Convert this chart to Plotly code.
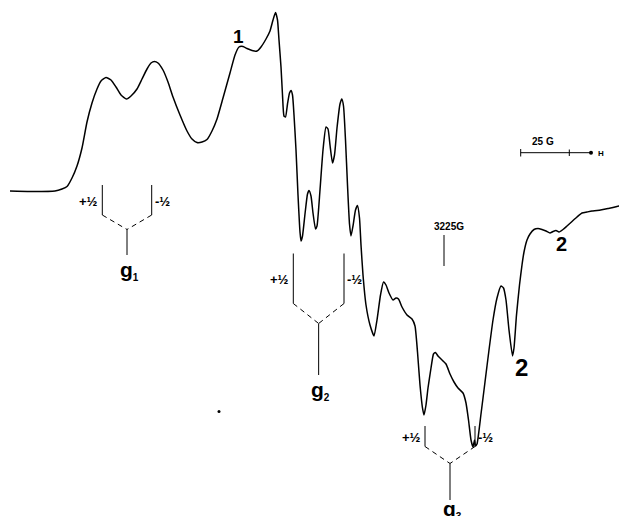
import plotly.graph_objects as go

# Traced spectrum (horizontal chart position, vertical chart position; larger = lower on the trace)
trace_x = [10, 30, 55, 62, 67, 72, 77, 82, 87, 92, 97, 101, 106, 111, 116, 121, 126.5, 131, 137, 142,
           147, 151, 154.5, 158, 163, 168, 173, 180, 187, 192, 197, 202, 207, 212, 217, 223, 230, 235,
           239, 243, 247, 252, 257, 261, 266, 270, 273, 275.5, 277.5, 279, 281, 282.5, 284, 285.5,
           287.5, 289.5, 291, 292.5, 294, 296, 298, 300, 301, 302.5, 305, 307.5, 309, 311, 313, 315.5,
           317, 320, 323, 326, 328, 330, 332.5, 334.5, 337, 340, 341.8, 343.5, 345.5, 347.5, 349.5,
           351, 353, 355.5, 357.5, 359.5, 361, 363, 366, 370, 374, 377, 380.5, 383.5, 386, 389, 393,
           396, 398.5, 402, 407, 412, 415, 417.5, 420, 422.5, 424, 426, 428, 431, 433.5, 435.5, 438,
           441, 446, 450, 454, 458, 463, 466, 468.5, 471, 473, 474.5, 475.5, 477, 481, 485, 489, 493,
           497, 501, 503.5, 506, 509, 512.5, 514, 516.5, 519.5, 522, 524, 527, 530, 534, 538, 542,
           546, 550, 553, 556, 559, 563, 567, 572, 577, 582, 587, 592, 597, 603, 608, 613, 619, 626]
trace_y = [191, 191.5, 191, 189, 186.5, 178, 166, 148, 122, 103, 89, 81, 77.5, 80, 87, 95, 99, 96, 89, 79,
           69, 63, 61.5, 63, 70, 82, 97, 115, 131, 139, 142.5, 142, 139.5, 131, 119, 98, 73, 55,
           47, 46.5, 48.5, 50.5, 51, 47, 39, 31, 20, 12.5, 20, 40, 67, 95, 116, 117,
           104, 93, 90.5, 95, 115, 150, 195, 232, 241, 236, 214, 194, 190.5, 196, 213, 229,
           226, 190, 150, 127, 129, 145, 163, 155, 128, 104, 99, 106, 140, 185, 224,
           236, 226, 210, 205.5, 218, 245, 275, 305, 325, 336, 320, 295, 282, 285, 293, 300,
           298, 299, 307, 315, 319, 326, 352, 385, 408, 415, 405, 388, 368, 354, 352.5, 356,
           359, 364, 374, 382, 388, 393, 403, 420, 440, 447, 440, 446, 444, 414, 382, 350, 320,
           298, 286, 288, 300, 330, 356, 348, 315, 285, 265, 252, 240, 234, 229.5, 228.5, 229.5,
           231, 233, 231.5, 230.5, 232, 229.5, 226, 221.5, 217, 213, 212, 211, 210.5, 209.5, 208.5, 207.5, 206, 204.5]

g_labels = ["g<sub><span style='font-size:10px'>1</span></sub>",
            "g<sub><span style='font-size:10px'>2</span></sub>",
            "g<sub><span style='font-size:10px'>3</span></sub>"]
peak_labels = ["1", "2", "2"]
field_label = "3225G"
scale_label = "25 G"

fig = go.Figure()
fig.add_trace(go.Scatter(x=trace_x, y=trace_y, mode="lines",
                         line=dict(color="black", width=1.5, shape="spline", smoothing=0.5),
                         hoverinfo="skip", showlegend=False))

shapes = []
annotations = []
FONT = "Liberation Sans, Arial, sans-serif"

def line(x0, y0, x1, y1, dash="solid", w=1):
    shapes.append(dict(type="line", x0=x0, y0=y0, x1=x1, y1=y1, xref="x", yref="y",
                       line=dict(color="black", width=w, dash=dash)))

def text(x, y, t, size, bold=True, xanchor="center"):
    annotations.append(dict(x=x, y=y, xref="x", yref="y", text=f"<b>{t}</b>" if bold else t,
                            showarrow=False, xanchor=xanchor, yanchor="middle",
                            font=dict(family=FONT, size=size, color="black")))

# splitting brackets: (left x, right x, top y, bracket y, centre y, stem end y, label y)
brackets = [
    (102.3, 151.7, 185, 215, 229.5, 255, 270),
    (293.3, 344.0, 253.5, 303.5, 323.5, 375, 390),
    (425.0, 475.0, 426.0, 446.5, 463.5, 500, 509),
]
for i, (xl, xr, yt, yb, yc, ys, yl) in enumerate(brackets):
    xc = (xl + xr) / 2
    line(xl, yt, xl, yb)
    line(xr, yt, xr, yb)
    line(xl, yb, xc, yc, dash="5px,4px")
    line(xr, yb, xc, yc, dash="5px,4px")
    line(xc, yc, xc, ys)
    text(xc + 2, yl, g_labels[i], 21)
    text(xl - 2, (yt + yb) / 2 + 1, "+½", 13, xanchor="right")
    text(xr + 1, (yt + yb) / 2 + 1, "-½", 13, xanchor="left")

# peak labels
text(238.5, 36, peak_labels[0], 19)
text(561.5, 244, peak_labels[1], 20)
text(521, 367, peak_labels[2], 24)

# field marker
line(444, 235, 444, 266)
text(449, 226, field_label, 10)

# scale bar
line(520.7, 152.7, 591, 152.7)
line(520.7, 149, 520.7, 156.5)
line(569.3, 149.5, 569.3, 156)
fig.add_trace(go.Scatter(x=[591], y=[152.7], mode="markers", marker=dict(color="black", size=4),
                         hoverinfo="skip", showlegend=False))
text(542.5, 141, scale_label, 10)
text(596, 153.5, "H", 8, xanchor="left")

# stray speck
fig.add_trace(go.Scatter(x=[219], y=[411.5], mode="markers", marker=dict(color="black", size=3),
                         hoverinfo="skip", showlegend=False))

# the page body adds an 8 px offset; shift the view so the drawing lands where the reference has it
OFF = 8
fig.update_layout(
    width=627, height=516, margin=dict(l=0, r=0, t=0, b=0),
    paper_bgcolor="white", plot_bgcolor="white",
    xaxis=dict(range=[OFF, 627 + OFF], visible=False, fixedrange=True),
    yaxis=dict(range=[516 + OFF, OFF], visible=False, fixedrange=True),
    shapes=shapes, annotations=annotations, showlegend=False,
)
fig.write_html("out.html")
